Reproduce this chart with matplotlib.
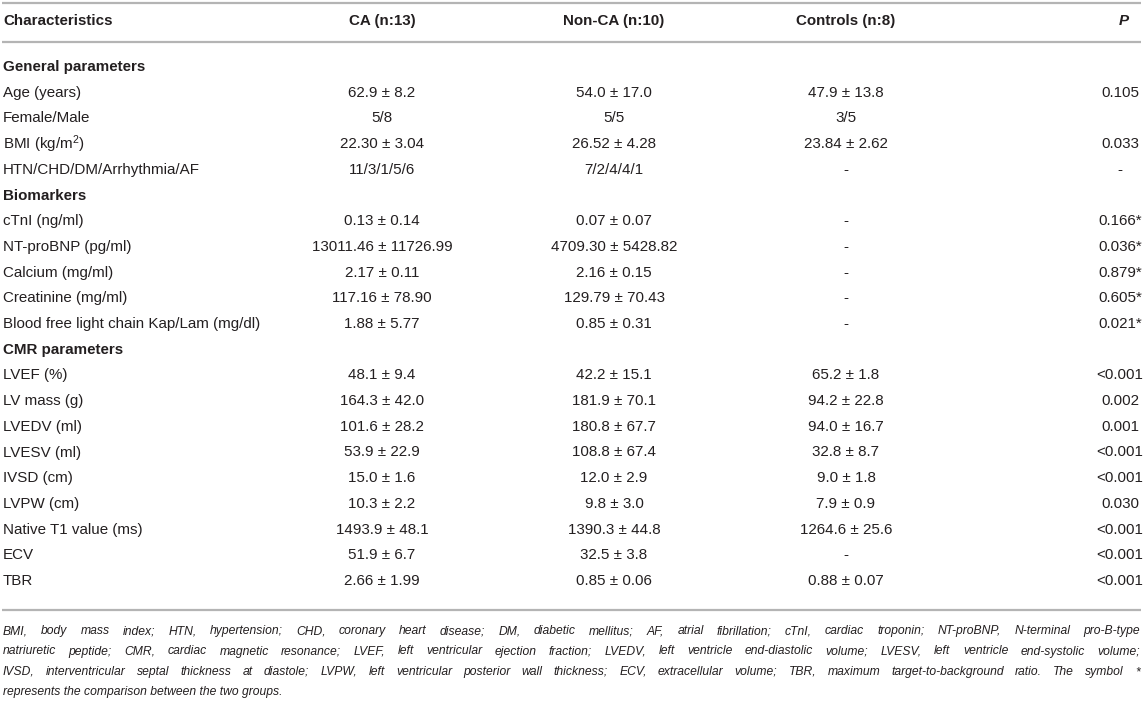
import matplotlib
matplotlib.use("Agg")
import matplotlib.pyplot as plt

plt.rcParams['font.family'] = ['Liberation Sans', 'DejaVu Sans']
plt.rcParams['mathtext.fontset'] = 'custom'
plt.rcParams['mathtext.rm'] = 'Liberation Sans'
plt.rcParams['mathtext.it'] = 'Liberation Sans:italic'

headers = ["Characteristics", "CA (n:13)", "Non-CA (n:10)", "Controls (n:8)", "P"]

characteristics = [
    "General parameters", "Age (years)", "Female/Male", "BMI (kg/m$^2$)",
    "HTN/CHD/DM/Arrhythmia/AF",
    "Biomarkers", "cTnI (ng/ml)", "NT-proBNP (pg/ml)", "Calcium (mg/ml)",
    "Creatinine (mg/ml)", "Blood free light chain Kap/Lam (mg/dl)",
    "CMR parameters", "LVEF (%)", "LV mass (g)", "LVEDV (ml)", "LVESV (ml)",
    "IVSD (cm)", "LVPW (cm)", "Native T1 value (ms)", "ECV", "TBR",
]
is_section = [True, False, False, False, False,
              True, False, False, False, False, False,
              True, False, False, False, False, False, False, False, False, False]
ca_values = ["", "62.9 ± 8.2", "5/8", "22.30 ± 3.04", "11/3/1/5/6",
             "", "0.13 ± 0.14", "13011.46 ± 11726.99", "2.17 ± 0.11", "117.16 ± 78.90", "1.88 ± 5.77",
             "", "48.1 ± 9.4", "164.3 ± 42.0", "101.6 ± 28.2", "53.9 ± 22.9", "15.0 ± 1.6",
             "10.3 ± 2.2", "1493.9 ± 48.1", "51.9 ± 6.7", "2.66 ± 1.99"]
nonca_values = ["", "54.0 ± 17.0", "5/5", "26.52 ± 4.28", "7/2/4/4/1",
                "", "0.07 ± 0.07", "4709.30 ± 5428.82", "2.16 ± 0.15", "129.79 ± 70.43", "0.85 ± 0.31",
                "", "42.2 ± 15.1", "181.9 ± 70.1", "180.8 ± 67.7", "108.8 ± 67.4", "12.0 ± 2.9",
                "9.8 ± 3.0", "1390.3 ± 44.8", "32.5 ± 3.8", "0.85 ± 0.06"]
control_values = ["", "47.9 ± 13.8", "3/5", "23.84 ± 2.62", "-",
                  "", "-", "-", "-", "-", "-",
                  "", "65.2 ± 1.8", "94.2 ± 22.8", "94.0 ± 16.7", "32.8 ± 8.7", "9.0 ± 1.8",
                  "7.9 ± 0.9", "1264.6 ± 25.6", "-", "0.88 ± 0.07"]
p_values = ["", "0.105", "", "0.033", "-",
            "", "0.166*", "0.036*", "0.879*", "0.605*", "0.021*",
            "", "<0.001", "0.002", "0.001", "<0.001", "<0.001",
            "0.030", "<0.001", "<0.001", "<0.001"]

footnote_lines = [
    "BMI, body mass index; HTN, hypertension; CHD, coronary heart disease; DM, diabetic mellitus; AF, atrial fibrillation; cTnI, cardiac troponin; NT-proBNP, N-terminal pro-B-type",
    "natriuretic peptide; CMR, cardiac magnetic resonance; LVEF, left ventricular ejection fraction; LVEDV, left ventricle end-diastolic volume; LVESV, left ventricle end-systolic volume;",
    "IVSD, interventricular septal thickness at diastole; LVPW, left ventricular posterior wall thickness; ECV, extracellular volume; TBR, maximum target-to-background ratio. The symbol *",
    "represents the comparison between the two groups.",
]

W, H = 1143, 704
fig = plt.figure(figsize=(W / 100, H / 100), dpi=100)
ax = fig.add_axes([0, 0, 1, 1])
ax.set_xlim(0, W)
ax.set_ylim(H, 0)
ax.axis('off')

TXT = '#231f20'
LINE = '#b4b4b4'
FS = 10.9
FN_FS = 8.7

x_left = 3
col_x = [382, 614, 846, 1120]
header_y = 21
row0_y = 67
row_h = 25.7

for yl in (3, 42, 610):
    ax.plot([2, 1141], [yl, yl], color=LINE, lw=1.6, solid_capstyle='butt')

ax.text(x_left, header_y, headers[0], fontsize=FS, fontweight='bold', color=TXT,
        ha='left', va='center')
for i in range(1, 4):
    ax.text(col_x[i - 1], header_y, headers[i], fontsize=FS, fontweight='bold', color=TXT,
            ha='center', va='center')
ax.text(1124, header_y, headers[4], fontsize=FS, fontweight='bold', fontstyle='italic',
        color=TXT, ha='center', va='center')

for r, name in enumerate(characteristics):
    y = row0_y + r * row_h
    ax.text(x_left, y, name, fontsize=FS, color=TXT, ha='left', va='center',
            fontweight='bold' if is_section[r] else 'normal')
    for cx, vals in zip(col_x, (ca_values, nonca_values, control_values, p_values)):
        if vals[r]:
            ax.text(cx, y, vals[r], fontsize=FS, color=TXT, ha='center', va='center')

# footnote, justified
fig.canvas.draw()
renderer = fig.canvas.get_renderer()
fn_y = [631, 651.5, 672, 692.5]
x0, x1 = 3, 1140
for li, line in enumerate(footnote_lines):
    y = fn_y[li]
    if li == len(footnote_lines) - 1:
        ax.text(x0, y, line, fontsize=FN_FS, fontstyle='italic', color=TXT,
                ha='left', va='center')
        continue
    words = line.split(' ')
    arts = [ax.text(0, y, w, fontsize=FN_FS, fontstyle='italic', color=TXT,
                    ha='left', va='center') for w in words]
    widths = [a.get_window_extent(renderer).width for a in arts]
    gap = (x1 - x0 - sum(widths)) / (len(words) - 1)
    x = x0
    for a, wd in zip(arts, widths):
        a.set_x(x)
        x += wd + gap

fig.savefig('out.png', dpi=100)
